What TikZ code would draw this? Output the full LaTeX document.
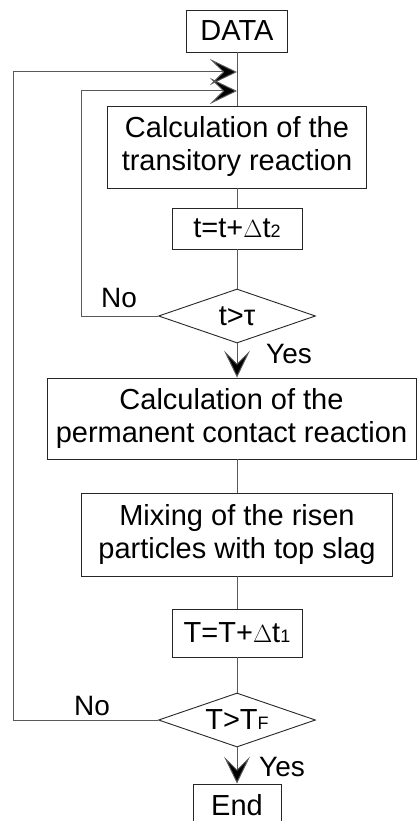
\documentclass[tikz,border=0pt]{standalone}
\usepackage{fontspec}
\setmainfont{Liberation Sans}
\usetikzlibrary{shapes.geometric,arrows.meta}
\newcommand\smallidx[1]{{\fontsize{18}{18}\selectfont #1}}

\begin{document}
\begin{tikzpicture}[x=1pt,y=-1pt,
  txt/.style={font=\fontsize{29}{33}\selectfont},
  box/.style={txt,draw=black!85,line width=0.9pt,inner sep=0pt,align=center},
  decision/.style={txt,diamond,draw=black!85,line width=0.9pt,inner sep=0pt,aspect=2.9},
  link/.style={draw=black!65,line width=1pt},
  flow/.style={link,-{Stealth[length=27pt,width=26pt,inset=13pt,fill=black]}},
  lbl/.style={font=\fontsize{28}{28}\selectfont,inner sep=0pt}]
\useasboundingbox (0,0) rectangle (418,821);

% process steps
\node[box,minimum width=101pt,minimum height=42pt] (data) at (237,31) {DATA};
\node[box,minimum width=259pt,minimum height=82pt] (trans) at (237,147)
  {Calculation of the\\transitory reaction};
\node[box,minimum width=130pt,minimum height=41pt] (step2) at (237,228.5)
  {t=t+$\Delta$t\smallidx{2}};
\node[decision,minimum width=157pt,minimum height=54pt] (test1) at (237,316)
  {\raisebox{-3pt}{t>τ}};
\node[box,minimum width=369pt,minimum height=81pt] (perm) at (231.5,418.5)
  {Calculation of the\\permanent contact reaction};
\node[box,minimum width=311pt,minimum height=83pt] (mix) at (237,534.5)
  {Mixing of the risen\\particles with top slag};
\node[box,minimum width=130pt,minimum height=48pt] (step1) at (237,633)
  {T=T+$\Delta$t\smallidx{1}};
\node[decision,minimum width=157pt,minimum height=54pt] (test2) at (237,720)
  {T>T\smallidx{F}};
% the last box runs past the lower edge of the page
\node[box,minimum width=88pt,minimum height=42pt] (finish) at (237,805) {End};

% branch labels
\node[lbl] (no1) at (119,298) {No};
\node[lbl] (yes1) at (289,354) {Yes};
\node[lbl] (no2) at (92,706) {No};
\node[lbl] (yes2) at (282,767) {Yes};

% merge points on the main line and loop corners
\coordinate (mergeA) at (237,72);
\coordinate (mergeB) at (237,91);
\coordinate (cornerA) at (13,720);
\coordinate (cornerB) at (81,316);

% main line
\draw[link] (data.south) -- (trans.north);
\draw[link] (trans.south) -- (step2.north);
\draw[link] (step2.south) -- (test1.north);
\draw[flow] (test1.south) -- (test1.south |- perm.north);
\draw[link] (mix.north |- perm.south) -- (mix.north);
\draw[link] (mix.south) -- (step1.north);
\draw[link] (step1.south) -- (test2.north);
\draw[flow] (test2.south) -- (finish.north);

% loops back to the start
\draw[flow] (test1.west) -- (cornerB) |- (mergeB);
\draw[flow] (test2.west) -- (cornerA) |- (mergeA);
\end{tikzpicture}
\end{document}
